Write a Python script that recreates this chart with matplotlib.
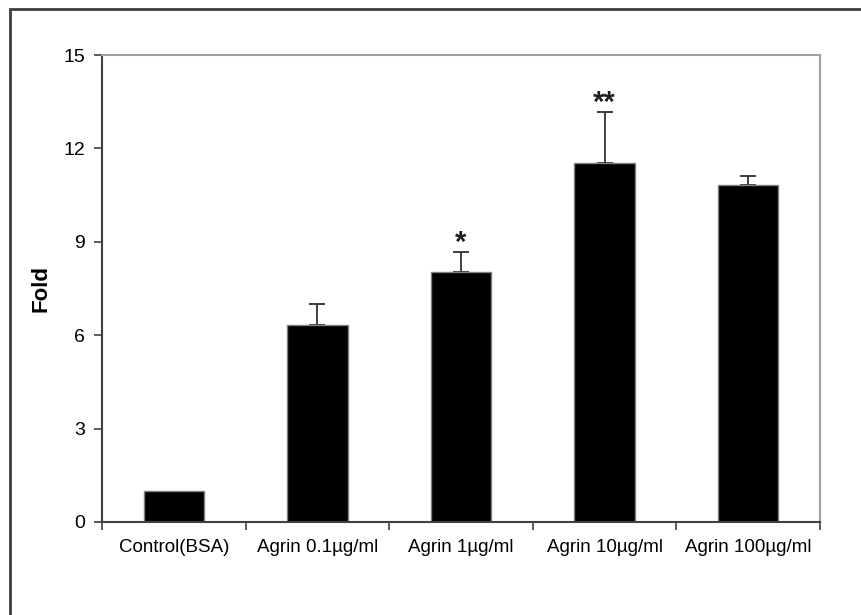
import matplotlib.pyplot as plt
from matplotlib.patches import Rectangle

# datos
categorias = ["Control(BSA)", "Agrin 0.1µg/ml", "Agrin 1µg/ml", "Agrin 10µg/ml", "Agrin 100µg/ml"]
fold = [1.0, 6.33, 8.02, 11.54, 10.83]
error = [0.0, 0.67, 0.65, 1.63, 0.29]
marcas = ["", "", "*", "**", ""]

plt.rcParams['font.family'] = ['Liberation Sans', 'DejaVu Sans']

fig = plt.figure(figsize=(8.62, 6.15), dpi=100)
ax = fig.add_axes([102 / 862, 1 - 522 / 615, 718 / 862, 467 / 615])

# marco de la figura
fig.patches.append(Rectangle((10 / 862, -0.1), 1.2, 1 - 9 / 615 + 0.1, transform=fig.transFigure,
                             fill=False, edgecolor='#404040', linewidth=2))

x = list(range(len(categorias)))
ax.bar(x, fold, width=0.42, color='black', edgecolor='#808080', linewidth=1, zorder=2)
for xi, v, e in zip(x, fold, error):
    if e > 0:
        ax.errorbar(xi, v, yerr=[[0], [e]], fmt='none', ecolor='#303030', elinewidth=1.3,
                    capsize=6, capthick=1.3, zorder=1)
for xi, v, e, m in zip(x, fold, error, marcas):
    if m:
        ax.text(xi, v + e - 0.15, m, ha='center', va='bottom', fontsize=21, fontweight='bold', color='#202020')

ax.set_xlim(-0.5, len(categorias) - 0.5)
ax.set_ylim(0, 15)
ax.set_yticks([0, 3, 6, 9, 12, 15])
ax.set_xticks([i - 0.5 for i in range(len(categorias) + 1)])
ax.set_xticklabels([])
ax.set_xticks(x, minor=True)
ax.set_xticklabels(categorias, minor=True)
ax.tick_params(axis='x', which='minor', length=0, pad=12, labelsize=13.5)
ax.tick_params(axis='x', which='major', direction='out', length=6, width=1.2, color='#404040')
ax.tick_params(axis='y', direction='out', length=6, width=1.2, color='#404040', labelsize=14, pad=6)

for lado in ['left', 'bottom']:
    ax.spines[lado].set_color('#404040')
    ax.spines[lado].set_linewidth(1.5)
for lado in ['top', 'right']:
    ax.spines[lado].set_color('#a0a0a0')
    ax.spines[lado].set_linewidth(1.5)

ax.set_ylabel("Fold", fontsize=16, fontweight='bold', labelpad=9)

plt.savefig("out.png", dpi=100)
